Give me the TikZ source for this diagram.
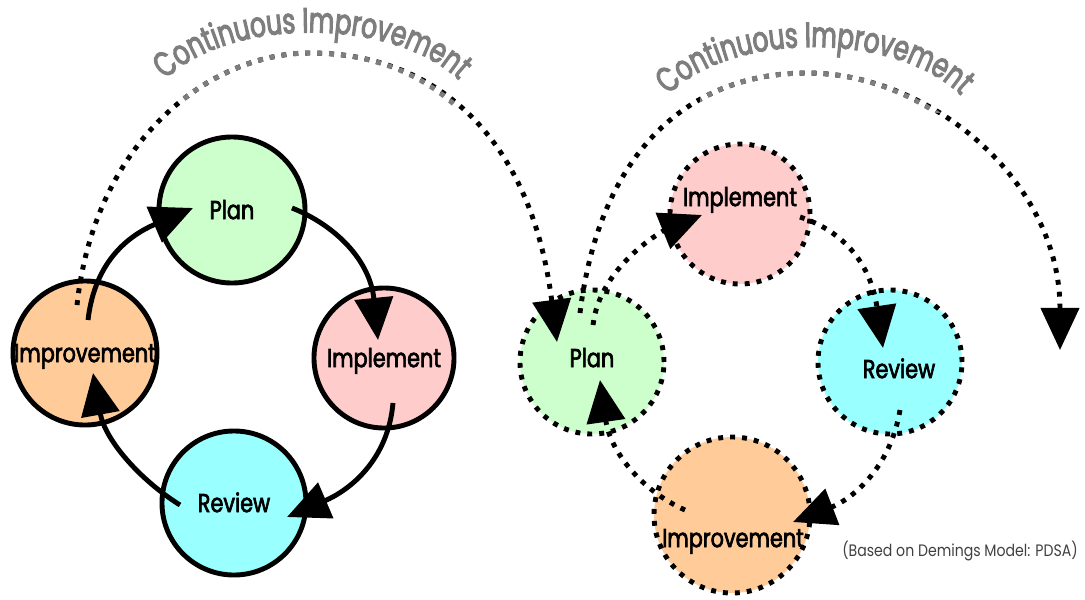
\documentclass[tikz,border=0pt]{standalone}
\usepackage{fontspec}
\setmainfont{Poppins}
\newfontfamily\lblfont[FakeStretch=0.8,FakeBold=2.5]{Poppins}
\newfontfamily\arcfont[FakeStretch=0.7,FakeBold=3]{Poppins}
\newfontfamily\notefont[FakeStretch=0.85]{Poppins}
\usetikzlibrary{arrows.meta,calc,decorations.text}

\definecolor{plangreen}{HTML}{CCFFCC}
\definecolor{implpink}{HTML}{FFCCCC}
\definecolor{revcyan}{HTML}{99FFFF}
\definecolor{imprpeach}{HTML}{FFCC99}
\definecolor{arcgray}{HTML}{7E7E7E}
\definecolor{notegray}{HTML}{404040}

\begin{document}
\begin{tikzpicture}[x=0.025cm, y=-0.025cm,
    every node/.style={align=center, inner sep=0pt},
    lbl/.style={font=\lblfont\fontsize{18.5}{20}\selectfont, text height=13pt, text depth=0pt},
    ring/.style={circle, draw, line width=3.5pt},
    dotring/.style={ring, dash pattern=on 3.5pt off 5pt},
    cyc/.style={line width=3.5pt, -{Triangle[length=30pt,width=27pt]}},
    dotcyc/.style={cyc, dash pattern=on 3.5pt off 5pt},
    grayarc/.style={line width=3.5pt, dash pattern=on 3.5pt off 5pt, draw=arcgray},
    arctext/.style={decorate, decoration={text along path, text align=center,
      text color=arcgray, text={|\arcfont\fontsize{25}{27}\selectfont|Continuous Improvement}}}]
  \useasboundingbox (0,0) rectangle (1085,599);

  % closed cycle
  \node[ring, lbl, fill=plangreen, minimum size=3.65cm] (plan) at (232,210) {Plan};
  \node[ring, lbl, fill=implpink, minimum size=3.5cm] (impl) at (384,358) {Implement};
  \node[ring, lbl, fill=revcyan, minimum size=3.6cm] (rev) at (234,503) {Review};
  \node[ring, lbl, fill=imprpeach, minimum size=3.6cm] (impr) at (85,353) {Improvement};

  \draw[cyc] ($(impr)+(3,-33)$) .. controls +(7,-60) and +(-63,27) .. ($(plan)+(-39,-2)$);
  \draw[cyc] ($(plan)+(60,-2)$) .. controls +(43,17) and +(-8,-80) .. ($(impl)+(-6,-18)$);
  \draw[cyc] ($(impl)+(9,45)$) .. controls +(-5,57) and +(63,-27) .. ($(rev)+(53,14)$);
  \draw[cyc] ($(rev)+(-54,2)$) .. controls +(-40,-25) and +(12,67) .. ($(impr)+(8,20)$);

  % rolling cycle
  \node[dotring, fill=implpink, minimum size=3.5cm] (impl2) at (740,214) {};
  \node[dotring, fill=plangreen, minimum size=3.6cm] (plan2) at (592,362) {};
  \node[dotring, fill=revcyan, minimum size=3.6cm] (rev2) at (890,362) {};
  \node[dotring, fill=imprpeach, minimum size=3.9cm] (impr2) at (732,515) {};
  \node[lbl] (impl2-t) at ($(impl2)+(0,-17)$) {Implement};
  \node[lbl] (plan2-t) at ($(plan2)+(0,-4)$) {Plan};
  \node[lbl] (rev2-t) at ($(rev2)+(9,7)$) {Review};
  \node[lbl] (impr2-t) at ($(impr2)+(1,23)$) {Improvement};

  \draw[dotcyc] ($(plan2)+(1,-37)$) .. controls +(7,-60) and +(-37,15) .. ($(impl2)+(-38,1)$);
  \draw[dotcyc] ($(impl2)+(60,3)$) .. controls +(40,13) and +(-13,-88) .. ($(rev2)+(-7,-14)$);
  \draw[dotcyc] ($(rev2)+(10,48)$) .. controls +(-10,60) and +(57,-22) .. ($(impr2)+(61,7)$);
  \draw[dotcyc] ($(impr2)+(-47,-5)$) .. controls +(-45,-20) and +(10,70) .. ($(plan2)+(8,18)$);

  % continuous improvement arcs
  \coordinate (ltop) at (310,53);
  \coordinate (rtop) at (807,73);
  \coordinate (rend) at (1060,350);
  \path[arctext] (150,100) .. controls (200,10) and (420,10) .. (475,100);
  \path[arctext] (655,113) .. controls (705,25) and (920,25) .. (975,113);

  \draw[dotcyc] ($(impr)+(-8,-48)$) .. controls +(18,-165) and (210,53) .. (ltop)
    .. controls (430,53) and +(-27,-212) .. ($(plan2)+(-35,-20)$);
  \begin{scope}
    \clip (183,0) rectangle (457,112);
    \draw[grayarc] ($(impr)+(-8,-48)$) .. controls +(18,-165) and (210,53) .. (ltop)
      .. controls (430,53) and +(-27,-212) .. ($(plan2)+(-35,-20)$);
  \end{scope}
  \draw[dotcyc] ($(plan2)+(-12,-49)$) .. controls +(20,-163) and (690,73) .. (rtop)
    .. controls (930,73) and +(0,-170) .. (rend);
  \begin{scope}
    \clip (700,0) rectangle (948,112);
    \draw[grayarc] ($(plan2)+(-12,-49)$) .. controls +(20,-163) and (690,73) .. (rtop)
      .. controls (930,73) and +(0,-170) .. (rend);
  \end{scope}

  \node[font=\notefont\fontsize{11.8}{14}\selectfont, text=notegray] (src) at (960,551)
    {(Based on Demings Model: PDSA)};
\end{tikzpicture}
\end{document}
